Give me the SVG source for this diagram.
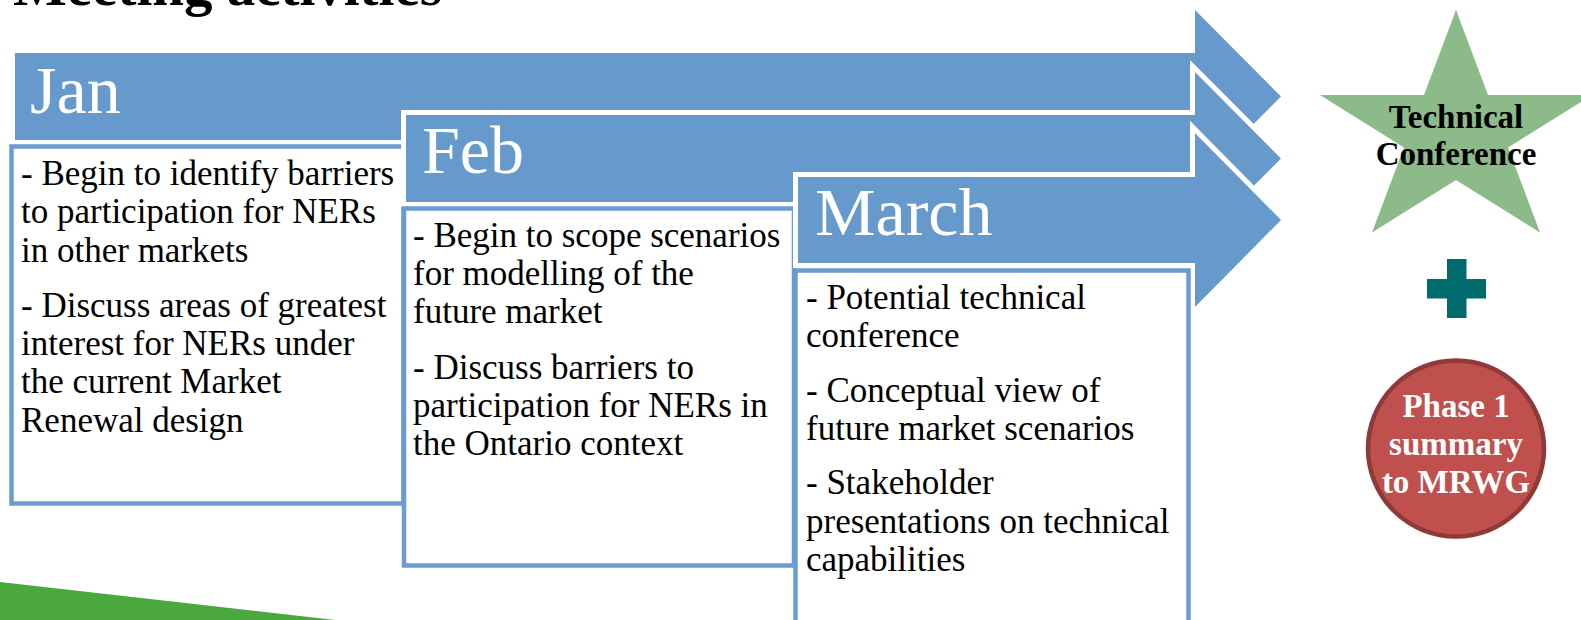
<svg xmlns="http://www.w3.org/2000/svg" width="1581" height="620" viewBox="0 0 1581 620">
<style>
.arrow{fill:#6699cc;stroke:#ffffff;stroke-width:10;paint-order:stroke;stroke-linejoin:miter;stroke-miterlimit:10}
.box{fill:#ffffff;stroke:#6b9bd2;stroke-width:4.5}
.month{font-family:"Liberation Serif",serif;font-size:68px;fill:#ffffff}
.body{font-family:"Liberation Serif",serif;font-size:35px;fill:#000000}
.bold{font-family:"Liberation Serif",serif;font-weight:bold;font-size:33px;text-anchor:middle}
</style>
<rect width="1581" height="620" fill="#ffffff"/>
<polygon points="0,582 335,620 0,620" fill="#4aa83e"/>
<text x="13" y="5" font-family="Liberation Serif, serif" font-weight="bold" font-size="57" fill="#000000">Meeting activities</text>

<g id="jan">
<polygon class="arrow" points="15,53 1195,53 1195,10 1281,96.5 1195,183 1195,140 15,140"/>
<text class="month" x="30" y="113">Jan</text>
<rect class="box" x="11.5" y="146.5" width="392" height="357"/>
<text class="body" x="21" y="185">- Begin to identify barriers</text>
<text class="body" x="21" y="223">to participation for NERs</text>
<text class="body" x="21" y="262">in other markets</text>
<text class="body" x="21" y="317">- Discuss areas of greatest</text>
<text class="body" x="21" y="355">interest for NERs under</text>
<text class="body" x="21" y="393">the current Market</text>
<text class="body" x="21" y="432">Renewal design</text>
</g>

<g id="feb">
<polygon class="arrow" points="406,115 1195,115 1195,72 1281,158.5 1195,245 1195,202 406,202"/>
<text class="month" x="422" y="173">Feb</text>
<rect class="box" x="404" y="208.5" width="390" height="357"/>
<text class="body" x="413" y="247">- Begin to scope scenarios</text>
<text class="body" x="413" y="285">for modelling of the</text>
<text class="body" x="413" y="323">future market</text>
<text class="body" x="413" y="379">- Discuss barriers to</text>
<text class="body" x="413" y="417">participation for NERs in</text>
<text class="body" x="413" y="455">the Ontario context</text>
</g>

<g id="march">
<polygon class="arrow" points="798,177 1195,177 1195,133 1281,220 1195,307 1195,263 798,263"/>
<text class="month" x="815" y="235">March</text>
<rect class="box" x="795.5" y="270.5" width="393" height="380"/>
<text class="body" x="806" y="309">- Potential technical</text>
<text class="body" x="806" y="347">conference</text>
<text class="body" x="806" y="402">- Conceptual view of</text>
<text class="body" x="806" y="440">future market scenarios</text>
<text class="body" x="806" y="494">- Stakeholder</text>
<text class="body" x="806" y="533">presentations on technical</text>
<text class="body" x="806" y="571">capabilities</text>
</g>

<g id="technical-conference">
<polygon points="1456,10 1488,95 1592,95 1508,147.5 1540,232.5 1456,180 1372,232.5 1404,147.5 1320,95 1424,95" fill="#8cbb89"/>
<text class="bold" x="1456" y="128" fill="#000000">Technical</text>
<text class="bold" x="1456" y="165" fill="#000000">Conference</text>
</g>

<g id="plus">
<rect x="1447" y="259" width="19.5" height="59" fill="#006b6c"/>
<rect x="1427" y="279" width="59" height="19.5" fill="#006b6c"/>
</g>

<g id="phase1-summary">
<circle cx="1456" cy="448.5" r="88" fill="#c0504d" stroke="#8e3a38" stroke-width="4.5"/>
<text class="bold" x="1456" y="417" fill="#ffffff">Phase 1</text>
<text class="bold" x="1456" y="455" fill="#ffffff">summary</text>
<text class="bold" x="1456" y="493" fill="#ffffff">to MRWG</text>
</g>

<g id="connectors"></g>
</svg>
